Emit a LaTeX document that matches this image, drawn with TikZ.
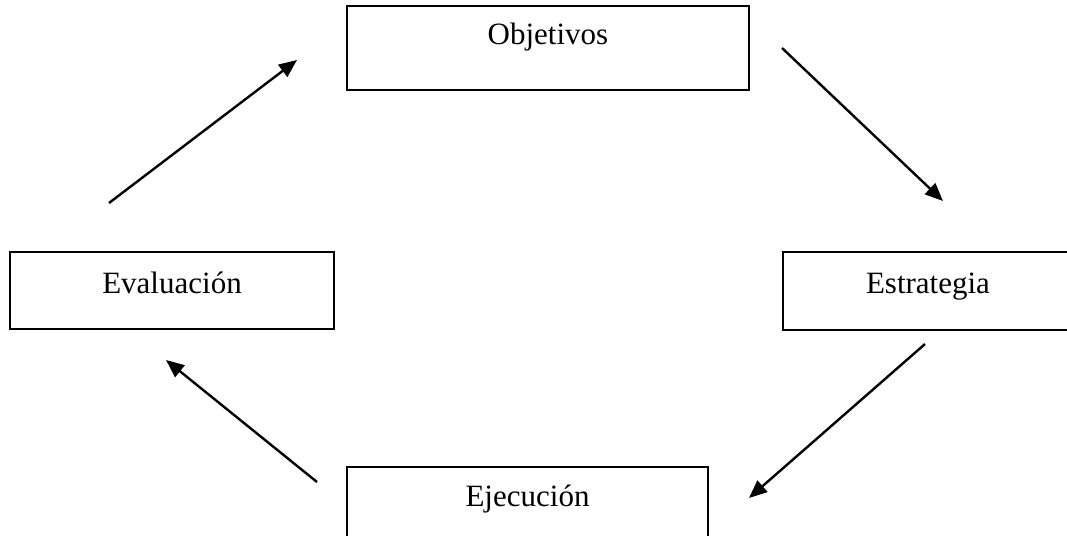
\documentclass[tikz,border=0pt]{standalone}
\usepackage{fontspec}
\setmainfont{Liberation Serif}
\usetikzlibrary{arrows.meta}
\begin{document}
\begin{tikzpicture}[x=1pt,y=-1pt,
  box/.style={draw=black, line width=1.6pt, inner sep=0pt},
  lbl/.style={anchor=base, inner sep=0pt, font=\fontsize{31}{36}\selectfont},
  flow/.style={line width=2.4pt, -{Triangle[length=18pt,width=15pt]}}]
  \useasboundingbox (0,0) rectangle (1067,535);
  \clip (0,0) rectangle (1067,535);
  \fill[white] (0,0) rectangle (1067,535);

  % the four stages of the cycle
  \node[box, minimum width=402pt, minimum height=84pt] (obj) at (548,48) {};
  \node[box, minimum width=324pt, minimum height=77pt] (eva) at (172,290.5) {};
  \node[box, minimum width=290pt, minimum height=78pt] (est) at (928,291) {};
  \node[box, minimum width=361pt, minimum height=90pt] (eje) at (527.5,512) {};

  \node[lbl] (tobj) at (548,45) {Objetivos};
  \node[lbl] (teva) at (172,293) {Evaluación};
  \node[lbl] (test) at (928,293) {Estrategia};
  \node[lbl] (teje) at (527.5,506) {Ejecución};

  % arrow end points around the cycle
  \coordinate (a1s) at (109,203);
  \coordinate (a1e) at (297,60);
  \coordinate (a2s) at (782,48);
  \coordinate (a2e) at (943,201);
  \coordinate (a3s) at (925,344);
  \coordinate (a3e) at (749,498);
  \coordinate (a4s) at (317,482);
  \coordinate (a4e) at (166,360);

  \draw[flow] (a1s) -- (a1e);
  \draw[flow] (a2s) -- (a2e);
  \draw[flow] (a3s) -- (a3e);
  \draw[flow] (a4s) -- (a4e);
\end{tikzpicture}
\end{document}
